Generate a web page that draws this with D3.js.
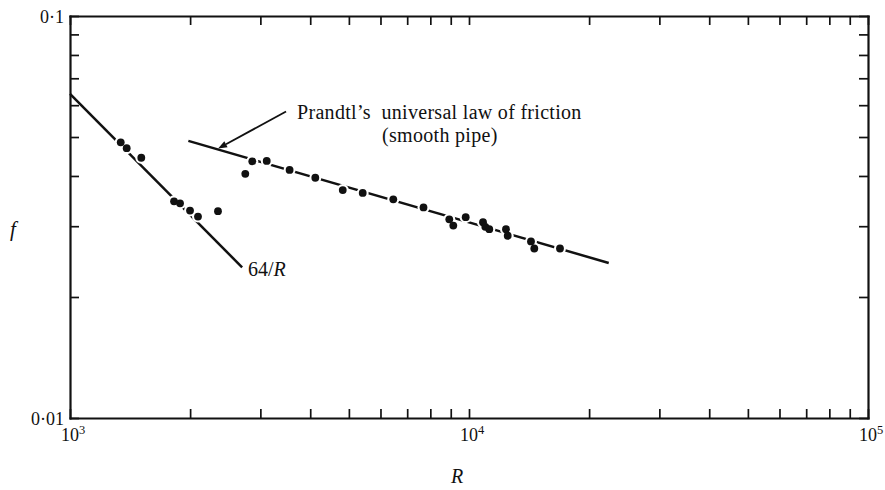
<!DOCTYPE html>
<html>
<head>
<meta charset="utf-8">
<script src="https://cdn.jsdelivr.net/npm/d3@7"></script>
<style>
  html, body { margin: 0; padding: 0; background: #fff; }
  svg { display: block; font-family: "Liberation Serif", "DejaVu Serif", serif; }
</style>
</head>
<body>
<svg id="chart" width="885" height="490"></svg>
<script>
// Measured pipe-flow points: Reynolds number and friction factor
const reynolds = [1340, 1387, 1509, 1823, 1887, 1999, 2093, 2349,
                  2750, 2863, 3112, 3551, 4119, 4826, 5415, 6460, 7691,
                  8925, 9134, 9811, 10842, 10987, 11242, 12380, 12503,
                  14300, 14576, 16906];
const friction = [0.0485, 0.0469, 0.0444, 0.0346, 0.0342, 0.0328, 0.0317, 0.0327,
                  0.0405, 0.0435, 0.0436, 0.0414, 0.0396, 0.0369, 0.0363, 0.0350, 0.0334,
                  0.0312, 0.0301, 0.0316, 0.0307, 0.0299, 0.0295, 0.0295, 0.0284,
                  0.0275, 0.0264, 0.0264];

// Laminar law f = 64/R, drawn between these Reynolds numbers
const laminarR = [1000, 2700];

// Prandtl's smooth-pipe law, end points of the drawn segment
const prandtlR = [1980, 22400];
const prandtlF = [0.0489, 0.0243];

// Axis labels
const xMajor = [1e3, 1e4, 1e5];
const xExponents = ["3", "4", "5"];
const yMajor = [0.1, 0.01];
const yMajorLabels = ["0·1", "0·01"];

const svg = d3.select("#chart");
const plotLeft = 70, plotRight = 868, plotTop = 16, plotBottom = 418;

const x = d3.scaleLog().domain([1e3, 1e5]).range([plotLeft, plotRight]);
const y = d3.scaleLog().domain([0.01, 0.1]).range([plotBottom, plotTop]);

const ink = "#111";
const tickLen = 9;

// Frame with inward ticks on all four sides
function styleAxis(g) {
  g.select(".domain").attr("stroke", ink).attr("stroke-width", 2.2).attr("stroke-linecap", "square");
  g.selectAll(".tick line").attr("stroke", ink).attr("stroke-width", 1.7);
  g.selectAll(".tick text").remove();
}
const xTicks = x.ticks();
const yTicks = y.ticks();

svg.append("g").attr("transform", `translate(0,${plotBottom})`)
  .call(d3.axisBottom(x).tickValues(xTicks).tickSize(-tickLen).tickSizeOuter(0).tickFormat(""))
  .call(styleAxis);
svg.append("g").attr("transform", `translate(0,${plotTop})`)
  .call(d3.axisTop(x).tickValues(xTicks).tickSize(-tickLen).tickSizeOuter(0).tickFormat(""))
  .call(styleAxis);
svg.append("g").attr("transform", `translate(${plotLeft},0)`)
  .call(d3.axisLeft(y).tickValues(yTicks).tickSize(-tickLen).tickSizeOuter(0).tickFormat(""))
  .call(styleAxis);
svg.append("g").attr("transform", `translate(${plotRight},0)`)
  .call(d3.axisRight(y).tickValues(yTicks).tickSize(-tickLen).tickSizeOuter(0).tickFormat(""))
  .call(styleAxis);

// Decade labels on the R axis
const xl = svg.append("g").attr("fill", ink).attr("font-size", 18);
xMajor.forEach((v, i) => {
  const t = xl.append("text").attr("x", x(v) + 3).attr("y", plotBottom + 23).attr("text-anchor", "middle");
  t.append("tspan").text("10");
  t.append("tspan").attr("font-size", 12.5).attr("dy", -7).text(xExponents[i]);
});

// Decade labels on the f axis
svg.append("g").attr("fill", ink).attr("font-size", 18)
  .selectAll("text").data(yMajor).join("text")
  .attr("x", plotLeft - 6).attr("y", d => y(d)).attr("dy", "0.38em")
  .attr("text-anchor", "end")
  .text((d, i) => yMajorLabels[i]);

// Axis titles
svg.append("text").attr("x", 13).attr("y", 236).attr("font-size", 21)
  .attr("font-style", "italic").attr("fill", ink).attr("text-anchor", "middle").text("f");
svg.append("text").attr("x", 457).attr("y", 483).attr("font-size", 20)
  .attr("font-style", "italic").attr("fill", ink).attr("text-anchor", "middle").text("R");

const line = d3.line().x(d => x(d.R)).y(d => y(d.f));

// Laminar line 64/R
const laminar = laminarR.map(R => ({ R, f: 64 / R }));
svg.append("path").datum(laminar).attr("d", line)
  .attr("fill", "none").attr("stroke", ink).attr("stroke-width", 2.5);

// Prandtl smooth-pipe line
const prandtl = prandtlR.map((R, i) => ({ R, f: prandtlF[i] }));
svg.append("path").datum(prandtl).attr("d", line)
  .attr("fill", "none").attr("stroke", ink).attr("stroke-width", 2.5);

// Measured points, each cut out of the line behind it by a white ring
const pts = reynolds.map((R, i) => ({ R, f: friction[i] }));
svg.append("g").selectAll("circle").data(pts).join("circle")
  .attr("cx", d => x(d.R)).attr("cy", d => y(d.f)).attr("r", 6).attr("fill", "#fff");
svg.append("g").selectAll("circle").data(pts).join("circle")
  .attr("cx", d => x(d.R)).attr("cy", d => y(d.f)).attr("r", 3.9).attr("fill", ink);

// Label for the laminar line
const lam = svg.append("text").attr("x", 248).attr("y", 276).attr("font-size", 20).attr("fill", ink);
lam.append("tspan").text("64/");
lam.append("tspan").attr("font-style", "italic").text("R");

// Annotation arrow pointing at the Prandtl line
const tipR = 2350;
const tA = (Math.log(tipR) - Math.log(prandtlR[0])) / (Math.log(prandtlR[1]) - Math.log(prandtlR[0]));
const tipF = Math.exp(Math.log(prandtlF[0]) + tA * (Math.log(prandtlF[1]) - Math.log(prandtlF[0])));
const tip = [x(tipR), y(tipF) - 1];
const tail = [tip[0] + 68, tip[1] - 37];
const ang = Math.atan2(tip[1] - tail[1], tip[0] - tail[0]);
const headLen = 9, headW = 3.4;
const base = [tip[0] - headLen * Math.cos(ang), tip[1] - headLen * Math.sin(ang)];
svg.append("line")
  .attr("x1", tail[0]).attr("y1", tail[1]).attr("x2", base[0]).attr("y2", base[1])
  .attr("stroke", ink).attr("stroke-width", 1.8);
svg.append("path")
  .attr("d", `M${tip[0]},${tip[1]}
              L${base[0] + headW * Math.sin(ang)},${base[1] - headW * Math.cos(ang)}
              L${base[0] - headW * Math.sin(ang)},${base[1] + headW * Math.cos(ang)}Z`)
  .attr("fill", ink);

svg.append("text").attr("x", tail[0] + 11).attr("y", tail[1] + 7)
  .attr("font-size", 20).attr("letter-spacing", 0.3).attr("fill", ink)
  .attr("xml:space", "preserve")
  .text("Prandtl\u2019s  universal law of friction");
svg.append("text").attr("x", tail[0] + 96).attr("y", tail[1] + 30)
  .attr("font-size", 20).attr("letter-spacing", 0.3).attr("fill", ink)
  .text("(smooth pipe)");
</script>
</body>
</html>
